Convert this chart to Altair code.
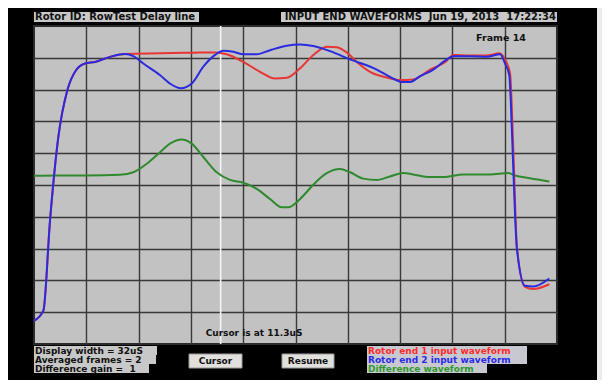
import altair as alt
import pandas as pd

# ---- waveform data (time in uS, amplitude in screen divisions) ----
red_t = [0.00, 0.57, 0.98, 1.49, 2.04, 2.57, 3.12, 3.73, 4.65, 5.57, 7.72, 9.75, 11.08, 11.79,
         12.81, 13.83, 14.75, 15.46, 16.28, 17.09, 17.91, 18.52, 19.13, 19.75, 20.56, 21.58,
         22.40, 23.21, 24.23, 25.15, 25.66, 26.68, 27.70, 28.47, 28.70, 29.13, 29.22, 29.37,
         29.55, 30.04, 30.55, 31.53]
red_v = [0.73, 1.04, 3.88, 6.51, 7.98, 8.61, 8.82, 8.87, 9.03, 9.12, 9.14, 9.16, 9.17, 9.11,
         8.87, 8.56, 8.35, 8.37, 8.67, 9.09, 9.35, 9.33, 9.17, 8.87, 8.56, 8.38,
         8.30, 8.32, 8.63, 8.86, 9.09, 9.07, 9.07, 9.14, 9.05, 8.51, 7.67, 5.46,
         3.04, 1.80, 1.73, 1.88]

blue_t = [0.00, 0.57, 0.98, 1.49, 2.04, 2.57, 3.12, 3.73, 4.65, 5.57, 6.08, 6.69, 7.72, 8.32,
          8.98, 9.65, 10.36, 11.08, 11.58, 12.20, 12.81, 13.63, 14.44, 15.46, 16.28, 17.09,
          18.11, 19.34, 20.97, 21.78, 22.50, 23.01, 23.62, 24.43, 25.15, 25.66, 26.68, 27.70,
          28.52, 28.82, 29.08, 29.17, 29.33, 29.54, 30.04, 30.55, 31.53]
blue_v = [0.73, 1.04, 3.88, 6.51, 7.98, 8.61, 8.82, 8.87, 9.03, 9.12, 9.05, 8.82, 8.45, 8.19,
          8.04, 8.19, 8.72, 9.09, 9.22, 9.19, 9.11, 9.11, 9.24, 9.38, 9.42, 9.37,
          9.21, 8.95, 8.63, 8.40, 8.24, 8.24, 8.42, 8.63, 8.91, 9.05, 9.05, 9.03,
          9.11, 8.82, 8.45, 7.67, 5.46, 3.04, 1.83, 1.81, 2.06]

green_t = [0.00, 1.39, 3.22, 5.26, 6.08, 6.90, 7.71, 8.32, 9.04, 9.65, 10.36, 11.18, 11.99,
           12.81, 13.63, 14.44, 15.16, 15.56, 16.28, 17.09, 17.91, 18.72, 19.34, 20.15, 20.97,
           21.78, 22.60, 23.21, 24.23, 25.05, 26.27, 27.90, 29.02, 29.43, 30.35, 31.53]
green_v = [5.29, 5.30, 5.30, 5.32, 5.40, 5.67, 6.03, 6.30, 6.43, 6.30, 5.88, 5.40, 5.16,
           5.07, 4.88, 4.56, 4.30, 4.30, 4.56, 5.01, 5.37, 5.50, 5.40, 5.20, 5.16,
           5.27, 5.38, 5.33, 5.25, 5.25, 5.33, 5.33, 5.38, 5.30, 5.21, 5.11]

series_names = ["Rotor end 1 input waveform", "Rotor end 2 input waveform", "Difference waveform"]
series_colors = ["#e83535", "#2a2ae0", "#2f8a2f"]
legend_colors = ["#ff2a2a", "#2a2ae8", "#2e9a2e"]

display_width_us = 32
grid_divs = 10
cursor_label_us = 11.3
cursor_pos_us = 11.42
frame_no = 14
averaged_frames = 2
diff_gain = 1

rotor_id = "Rotor ID: RowTest Delay line"
header = "INPUT END WAVEFORMS\u00a0\u00a0Jun 19, 2013\u00a0\u00a017:22:34"

# ---- chart ----
PLOT_W, PLOT_H = 523, 318
FONT = "DejaVu Sans"

xgrid = [round(display_width_us / grid_divs * i, 3) for i in range(1, grid_divs)]
ygrid = list(range(1, 10))

X = alt.X("t:Q", scale=alt.Scale(domain=[0, display_width_us], nice=False, zero=False),
          axis=alt.Axis(values=xgrid, grid=True, labels=False, ticks=False, domain=False,
                        title=None, gridColor="#383838", gridWidth=1.4, gridOpacity=1))
Y = alt.Y("v:Q", scale=alt.Scale(domain=[0, 10], nice=False, zero=False),
          axis=alt.Axis(values=ygrid, grid=True, labels=False, ticks=False, domain=False,
                        title=None, gridColor="#383838", gridWidth=1.4, gridOpacity=1))

one = pd.DataFrame({"d": [0]})


def box(x1, x2, y1, y2, fill, stroke=None):
    kw = dict(fill=fill)
    if stroke:
        kw.update(stroke=stroke, strokeWidth=1)
    return alt.Chart(one).mark_rect(**kw).encode(
        x=alt.value(x1), x2=alt.value(x2), y=alt.value(y1), y2=alt.value(y2))


def label(text, x, y, color="#111111", align="left", size=9):
    return alt.Chart(one).mark_text(
        font=FONT, fontSize=size, fontWeight="bold", color=color, align=align,
        baseline="middle").encode(x=alt.value(x), y=alt.value(y), text=alt.value(text))


cursor = alt.Chart(pd.DataFrame({"t": [cursor_pos_us]})).mark_rule(
    color="#f4f4f4", strokeWidth=1.6).encode(x=X)


def wave(ts, vs, color):
    df = pd.DataFrame({"t": ts, "v": vs})
    return alt.Chart(df).mark_line(color=color, strokeWidth=2, interpolate="monotone").encode(x=X, y=Y)


green = wave(green_t, green_v, series_colors[2])
red = wave(red_t, red_v, series_colors[0])
blue = wave(blue_t, blue_v, series_colors[1])

deco = [
    # right scrollbar strip
    box(563, 568, -18, 355, "#ececec"),
    # header boxes
    box(0, 165, -14, -4, "#c8c8c8"),
    label(rotor_id, 1, -9, size=10),
    box(247, 523, -14, -4, "#c8c8c8"),
    label(header, 522, -9, align="right", size=10),
    label(f"Frame {frame_no}", 467, 12, align="center", size=9.5),
    label(f"Cursor is at {cursor_label_us}uS", 220, 307, align="center", size=9),
    # info box
    box(0, 123, 320, 329, "#c8c8c8"),
    box(0, 122, 329, 338, "#c8c8c8"),
    box(0, 115, 338, 347, "#c8c8c8"),
    label(f"Display width = {display_width_us}uS", 1, 324.5),
    label(f"Averaged frames = {averaged_frames}", 1, 333.5),
    label(f"Difference gain =\u00a0\u00a0{diff_gain}", 1, 342.5),
    # buttons
    box(155, 208, 328, 342, "#e2e0dc", "#9a9a9a"),
    label("Cursor", 181.5, 335, align="center"),
    box(248, 300, 328, 342, "#e2e0dc", "#9a9a9a"),
    label("Resume", 274, 335, align="center"),
    # legend
    box(333, 493, 320, 329, "#c8c8d0"),
    box(333, 493, 329, 338, "#c8c8d0"),
    box(333, 453, 338, 347, "#c8c8d0"),
    label(series_names[0], 334, 324.5, color=legend_colors[0]),
    label(series_names[1], 334, 333.5, color=legend_colors[1]),
    label(series_names[2], 334, 342.5, color=legend_colors[2]),
]

chart = alt.layer(cursor, green, red, blue, *deco).properties(
    width=PLOT_W, height=PLOT_H,
    autosize=alt.AutoSizeParams(type="none"),
    padding={"left": 26, "top": 18, "right": 45, "bottom": 36},
    background="black",
).configure_view(fill="#c2c2c2", stroke="#2a2a2a", strokeWidth=2)

chart.save("out.html", embed_options={"renderer": "svg", "actions": False})
